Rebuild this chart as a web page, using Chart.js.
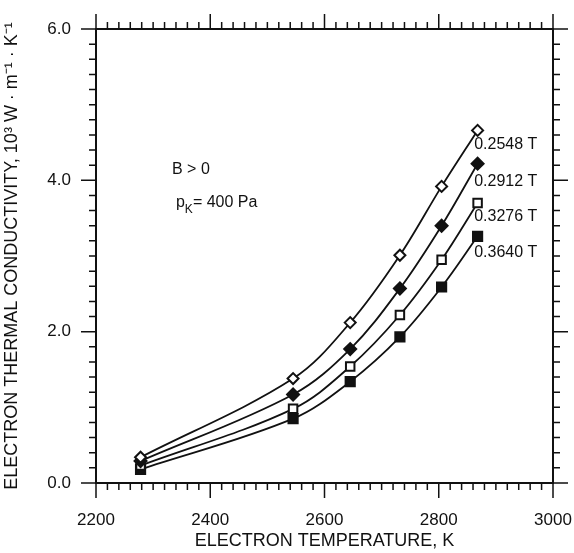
<!DOCTYPE html>
<html>
<head>
<meta charset="utf-8">
<script src="https://cdn.jsdelivr.net/npm/chart.js@4.4.0/dist/chart.umd.min.js"></script>
<style>
  html, body { margin: 0; padding: 0; background: #fff; }
</style>
</head>
<body>
<canvas id="chart" width="574" height="553"></canvas>
<script>
// values
const temps = [2278, 2545, 2645, 2732, 2805, 2868];
const k02548 = [0.34, 1.38, 2.12, 3.01, 3.92, 4.66];
const k02912 = [0.29, 1.17, 1.77, 2.57, 3.40, 4.22];
const k03276 = [0.23, 0.98, 1.54, 2.22, 2.95, 3.70];
const k03640 = [0.18, 0.85, 1.34, 1.93, 2.59, 3.26];
const seriesNames = ['0.2548 T', '0.2912 T', '0.3276 T', '0.3640 T'];
const nameT = [2862, 2862, 2862, 2862];
const nameK = [4.47, 3.98, 3.52, 3.05];
const xTicks = [2200, 2400, 2600, 2800, 3000];
const yTicks = [0, 2, 4, 6];

const FONT = '"Liberation Sans", Arial, Helvetica, sans-serif';
const INK = '#111';

const toXY = vals => vals.map((v, i) => ({ x: temps[i], y: v }));

function series(label, vals, style, filled, radius) {
    return {
        label: label,
        data: toXY(vals),
        borderColor: INK,
        borderWidth: 1.8,
        tension: 0.35,
        pointStyle: style,
        pointRadius: radius,
        pointHoverRadius: radius,
        pointBorderColor: INK,
        pointBorderWidth: 2,
        pointBackgroundColor: filled ? INK : '#fff',
        fill: false
    };
}

// frame, outward ticks on all four sides, labels and notes
const framePlugin = {
    id: 'frame',
    afterDraw(chart) {
        const ctx = chart.ctx;
        const xs = chart.scales.x, ys = chart.scales.y;
        const a = chart.chartArea;
        ctx.save();
        ctx.strokeStyle = INK;
        ctx.lineWidth = 2;
        ctx.strokeRect(a.left, a.top, a.right - a.left, a.bottom - a.top);
        ctx.lineWidth = 1.5;
        ctx.beginPath();
        for (let i = 0; i <= 40; i++) {
            const px = xs.getPixelForValue(2200 + i * 20);
            const len = i % 10 === 0 ? 15 : 7;
            ctx.moveTo(px, a.bottom); ctx.lineTo(px, a.bottom + len);
            ctx.moveTo(px, a.top); ctx.lineTo(px, a.top - len);
        }
        for (let i = 0; i <= 30; i++) {
            const py = ys.getPixelForValue(i * 0.2);
            const len = i % 10 === 0 ? 15 : 7;
            ctx.moveTo(a.left, py); ctx.lineTo(a.left - len, py);
            ctx.moveTo(a.right, py); ctx.lineTo(a.right + len, py);
        }
        ctx.stroke();

        ctx.fillStyle = INK;
        ctx.textBaseline = 'middle';
        ctx.textAlign = 'left';
        ctx.font = '16px ' + FONT;
        seriesNames.forEach((name, i) => {
            ctx.fillText(name, xs.getPixelForValue(nameT[i]), ys.getPixelForValue(nameK[i]));
        });

        ctx.font = '16px ' + FONT;
        ctx.fillText('B > 0', xs.getPixelForValue(2333), ys.getPixelForValue(4.14));
        let px = xs.getPixelForValue(2340);
        const py = ys.getPixelForValue(3.70);
        ctx.fillText('p', px, py);
        px += ctx.measureText('p').width;
        ctx.font = '12px ' + FONT;
        ctx.fillText('K', px, py + 7);
        px += ctx.measureText('K').width;
        ctx.font = '16px ' + FONT;
        ctx.fillText('= 400 Pa', px, py);
        ctx.restore();
    }
};

new Chart(document.getElementById('chart'), {
    type: 'line',
    data: {
        datasets: [
            series(seriesNames[0], k02548, 'rectRot', false, 5.5),
            series(seriesNames[1], k02912, 'rectRot', true, 6),
            series(seriesNames[2], k03276, 'rect', false, 6),
            series(seriesNames[3], k03640, 'rect', true, 6.5)
        ]
    },
    options: {
        responsive: false,
        animation: false,
        devicePixelRatio: 1,
        layout: { padding: { top: 29, right: 21, left: 0, bottom: 0 } },
        plugins: { legend: { display: false }, tooltip: { enabled: false } },
        scales: {
            x: {
                type: 'linear',
                min: 2200,
                max: 3000,
                grid: { display: false },
                border: { display: false },
                afterFit: s => { s.height = 70; s.paddingLeft = 0; s.paddingRight = 0; },
                afterBuildTicks: s => { s.ticks = xTicks.map(v => ({ value: v })); },
                ticks: {
                    color: INK,
                    padding: 19,
                    maxRotation: 0,
                    autoSkip: false,
                    font: { family: FONT, size: 17 },
                    callback: v => String(v)
                },
                title: {
                    display: true,
                    text: 'ELECTRON TEMPERATURE, K',
                    color: INK,
                    font: { family: FONT, size: 18 },
                    padding: { top: 0, bottom: 1 }
                }
            },
            y: {
                min: 0,
                max: 6,
                grid: { display: false },
                border: { display: false },
                afterFit: s => { s.width = 96; s.paddingTop = 0; s.paddingBottom = 0; },
                afterBuildTicks: s => { s.ticks = yTicks.map(v => ({ value: v })); },
                ticks: {
                    color: INK,
                    padding: 17,
                    font: { family: FONT, size: 17 },
                    callback: v => v.toFixed(1)
                },
                title: {
                    display: true,
                    text: 'ELECTRON THERMAL CONDUCTIVITY, 10³ W · m⁻¹ · K⁻¹',
                    color: INK,
                    font: { family: FONT, size: 18 },
                    padding: { top: 1, bottom: 0 }
                }
            }
        }
    },
    plugins: [framePlugin]
});
</script>
</body>
</html>
